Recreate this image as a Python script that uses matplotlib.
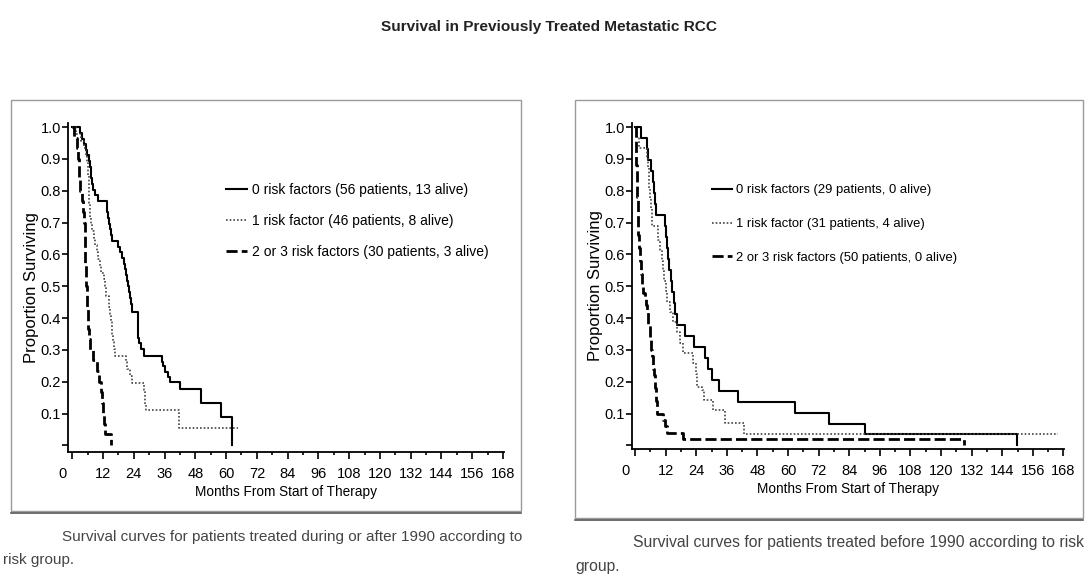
import matplotlib
matplotlib.use("Agg")
import matplotlib.pyplot as plt
from matplotlib.patches import Rectangle
from matplotlib.lines import Line2D
from matplotlib.transforms import ScaledTranslation

plt.rcParams['font.family'] = ['Liberation Sans Narrow', 'Liberation Sans', 'DejaVu Sans']

# ---- data (months, proportion surviving) ----
# during or after 1990
after_t0 = [0, 3.0, 3.6, 4.6, 5.4, 5.9, 6.4, 6.8, 7.1, 7.3, 7.8, 8.0, 8.9, 10.2, 13.4, 13.7, 14.0,
            14.4, 14.7, 15.0, 15.4, 18.0, 18.6, 19.5, 20.2, 20.6, 21.0, 21.5, 21.9, 22.2, 22.5, 22.9,
            23.4, 25.5, 25.6, 25.7, 25.8, 26.0, 26.8, 28.1, 34.9, 35.5, 36.2, 37.2, 38.1, 42.0, 50.1,
            57.9, 62.2]
after_s0 = [1.0, 0.982, 0.964, 0.946, 0.929, 0.911, 0.893, 0.875, 0.857, 0.839, 0.821, 0.804, 0.786,
            0.768, 0.75, 0.732, 0.714, 0.696, 0.679, 0.661, 0.643, 0.625, 0.607, 0.589, 0.571, 0.554,
            0.536, 0.518, 0.5, 0.482, 0.464, 0.446, 0.42, 0.393, 0.375, 0.357, 0.339, 0.321, 0.304,
            0.28, 0.262, 0.25, 0.232, 0.214, 0.2, 0.178, 0.134, 0.089, 0.0]

after_t1 = [0, 1.5, 3.5, 4.5, 5.3, 5.7, 6.0, 6.2, 6.4, 6.5, 6.6, 6.7, 6.8, 7.0, 7.3, 7.8, 8.4, 8.9,
            9.5, 10.2, 10.7, 11.3, 12.4, 12.7, 13.0, 14.3, 14.5, 14.7, 15.0, 15.3, 15.6, 16.0, 16.3,
            16.6, 21.0, 21.5, 22.5, 23.2, 28.1, 28.2, 28.4, 28.8, 41.6, 64.8]
after_s1 = [1.0, 0.978, 0.957, 0.935, 0.913, 0.891, 0.87, 0.848, 0.826, 0.804, 0.783, 0.761, 0.739,
            0.717, 0.696, 0.674, 0.652, 0.63, 0.609, 0.587, 0.565, 0.543, 0.522, 0.5, 0.47, 0.457,
            0.435, 0.413, 0.391, 0.37, 0.348, 0.326, 0.304, 0.28, 0.261, 0.239, 0.217, 0.196, 0.174,
            0.152, 0.13, 0.11, 0.055, 0.055]

after_t2 = [0, 0.5, 1.7, 2.2, 2.5, 2.8, 3.0, 3.8, 4.3, 4.6, 4.8, 4.9, 5.0, 5.1, 5.2, 5.5, 5.7, 5.9,
            6.1, 6.3, 6.5, 6.8, 7.9, 9.8, 10.6, 11.2, 11.6, 11.9, 12.3, 12.6, 15.1]
after_s2 = [1.0, 0.967, 0.933, 0.9, 0.867, 0.833, 0.8, 0.767, 0.733, 0.7, 0.667, 0.633, 0.6, 0.567,
            0.533, 0.5, 0.467, 0.433, 0.4, 0.367, 0.333, 0.3, 0.267, 0.233, 0.2, 0.167, 0.133, 0.1,
            0.067, 0.035, 0.0]

# before 1990
before_t0 = [0, 2.2, 4.6, 5.2, 6.3, 7.2, 7.6, 7.9, 8.1, 11.8, 12.1, 12.4, 12.8, 13.4, 14.0, 14.6,
             15.2, 15.7, 16.3, 19.6, 23.3, 27.5, 28.8, 30.1, 33.1, 40.5, 62.7, 76.2, 90.2, 149.7]
before_s0 = [1.0, 0.966, 0.931, 0.897, 0.862, 0.828, 0.793, 0.759, 0.724, 0.69, 0.655, 0.621, 0.586,
             0.552, 0.517, 0.483, 0.448, 0.414, 0.379, 0.345, 0.31, 0.276, 0.241, 0.207, 0.172,
             0.138, 0.103, 0.069, 0.035, 0.0]

before_t1 = [0, 0.8, 1.6, 4.6, 5.0, 5.3, 5.6, 5.9, 6.2, 6.5, 6.8, 9.2, 9.8, 10.5, 11.0, 11.5, 12.0,
             12.4, 13.7, 15.0, 16.3, 17.6, 18.9, 22.9, 23.8, 24.2, 26.1, 27.2, 30.7, 35.3, 42.7, 166.0]
before_s1 = [1.0, 0.968, 0.935, 0.903, 0.871, 0.839, 0.806, 0.774, 0.742, 0.71, 0.69, 0.645, 0.613,
             0.581, 0.548, 0.516, 0.484, 0.452, 0.419, 0.387, 0.355, 0.323, 0.29, 0.258, 0.226,
             0.185, 0.174, 0.143, 0.112, 0.072, 0.036, 0.036]

before_t2 = [0, 0.2, 0.3, 0.45, 0.6, 0.8, 1.0, 1.3, 1.6, 2.0, 2.3, 2.6, 3.2, 3.9, 4.3, 4.6, 5.2, 5.9,
             6.3, 6.8, 7.2, 7.6, 7.9, 8.1, 8.5, 11.1, 11.8, 12.4, 18.9, 128.8]
before_s2 = [1.0, 0.96, 0.92, 0.88, 0.84, 0.78, 0.72, 0.66, 0.62, 0.58, 0.54, 0.5, 0.48, 0.46, 0.44,
             0.42, 0.38, 0.34, 0.3, 0.28, 0.24, 0.22, 0.18, 0.14, 0.1, 0.08, 0.06, 0.04, 0.02, 0.0]

after_labels = ['0 risk factors (56 patients, 13 alive)',
                '1 risk factor (46 patients, 8 alive)',
                '2 or 3 risk factors (30 patients, 3 alive)']
before_labels = ['0 risk factors (29 patients, 0 alive)',
                 '1 risk factor (31 patients, 4 alive)',
                 '2 or 3 risk factors (50 patients, 0 alive)']

month_ticks = list(range(0, 169, 12))
surv_ticks = [0.1, 0.2, 0.3, 0.4, 0.5, 0.6, 0.7, 0.8, 0.9, 1.0]

W, H = 1086, 574
fig = plt.figure(figsize=(W / 100, H / 100), dpi=100)


def px_box(x0, y0, x1, y1):
    # pixel box (top-left origin) -> figure fraction [left, bottom, width, height]
    return [x0 / W, 1 - y1 / H, (x1 - x0) / W, (y1 - y0) / H]


# panel frames
for (x0, y0, x1, y1) in [(11, 100, 521, 511), (575, 100, 1083, 518)]:
    fig.patches.append(Rectangle((x0 / W, 1 - y1 / H), (x1 - x0) / W, (y1 - y0) / H,
                                 transform=fig.transFigure, fill=False, ec='#9a9a9a', lw=1.0))
    fig.lines.append(Line2D([x0 / W, x1 / W], [1 - (y1 + 1.5) / H] * 2,
                            transform=fig.transFigure, color='#555555', lw=1.2))

styles = [dict(color='black', lw=1.5, ls='-'),
          dict(color='#444444', lw=1.2, ls=(0, (1, 1.2))),
          dict(color='black', lw=2.0, ls=(0, (4, 1.5)))]


def draw_panel(rect, xlim, ylim, series, labels, leg_anchor, leg_size, leg_space):
    ax = fig.add_axes(rect)
    handles = []
    for (t, s), st in zip(series, styles):
        h, = ax.step(t, s, where='post', **st)
        handles.append(h)
    ax.set_xlim(*xlim)
    ax.set_ylim(*ylim)
    for side in ['top', 'right']:
        ax.spines[side].set_visible(False)
    for side in ['left', 'bottom']:
        ax.spines[side].set_linewidth(1.3)
    ax.set_xticks(month_ticks)
    ax.set_xticks(list(range(6, 169, 12)), minor=True)
    ax.set_yticks([0.0] + surv_ticks)
    ax.set_yticklabels([''] + ['%.1f' % v for v in surv_ticks])
    ax.tick_params(axis='x', which='major', direction='out', length=5, width=1.2, labelsize=10.5, pad=6)
    ax.tick_params(axis='x', which='minor', direction='out', length=2.5, width=1.2)
    ax.tick_params(axis='y', direction='out', length=4, width=1.2, labelsize=10.5, pad=1)
    # the "0" label sits a bit left of its tick in the original
    lab0 = ax.get_xticklabels()[0]
    lab0.set_transform(lab0.get_transform() + ScaledTranslation(-10 / 100, 0, fig.dpi_scale_trans))
    ax.set_xlabel('Months From Start of Therapy', fontsize=9.8, labelpad=3)
    ax.set_ylabel('Proportion Surviving', fontsize=12, labelpad=1)
    ax.legend(handles, labels, loc='upper left', bbox_to_anchor=leg_anchor, frameon=False,
              fontsize=leg_size, handlelength=1.5, handletextpad=0.35, labelspacing=leg_space,
              borderpad=0, borderaxespad=0)
    return ax


draw_panel(px_box(68, 123, 504, 451.7), (-1.68, 168.4), (-0.0195, 1.013),
           [(after_t0, after_s0), (after_t1, after_s1), (after_t2, after_s2)],
           after_labels, (0.362, 0.818), 10, 1.22)
draw_panel(px_box(632, 123, 1064, 449), (-1.18, 168.2), (-0.011, 1.013),
           [(before_t0, before_s0), (before_t1, before_s1), (before_t2, before_s2)],
           before_labels, (0.185, 0.812), 9.4, 1.65)

fig.text(549 / W, 1 - 27 / H, 'Survival in Previously Treated Metastatic RCC', ha='center',
         va='center', fontsize=11.1, fontweight='bold', color='#222222')

cap = dict(color='#444444', va='center', ha='left')
fig.text(62 / W, 1 - 537 / H, 'Survival curves for patients treated during or after 1990 according to',
         fontsize=11, **cap)
fig.text(3 / W, 1 - 560 / H, 'risk group.', fontsize=11, **cap)
fig.text(633 / W, 1 - 543 / H, 'Survival curves for patients treated before 1990 according to risk',
         fontsize=11.3, **cap)
fig.text(575 / W, 1 - 566 / H, 'group.', fontsize=11.3, **cap)

fig.savefig('out.png', dpi=100)
